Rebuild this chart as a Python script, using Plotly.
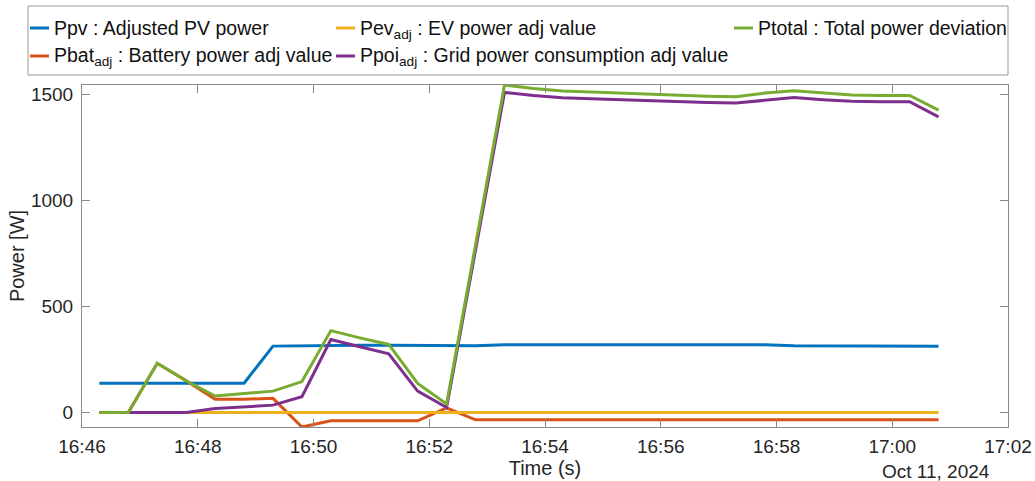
import plotly.graph_objects as go

# Sample timestamps (one reading every 30 s)
times = [
    "2024-10-11 16:46:18", "2024-10-11 16:46:48", "2024-10-11 16:47:18", "2024-10-11 16:47:48",
    "2024-10-11 16:48:18", "2024-10-11 16:48:48", "2024-10-11 16:49:18", "2024-10-11 16:49:48",
    "2024-10-11 16:50:18", "2024-10-11 16:50:48", "2024-10-11 16:51:18", "2024-10-11 16:51:48",
    "2024-10-11 16:52:18", "2024-10-11 16:52:48", "2024-10-11 16:53:18", "2024-10-11 16:53:48",
    "2024-10-11 16:54:18", "2024-10-11 16:54:48", "2024-10-11 16:55:18", "2024-10-11 16:55:48",
    "2024-10-11 16:56:18", "2024-10-11 16:56:48", "2024-10-11 16:57:18", "2024-10-11 16:57:48",
    "2024-10-11 16:58:18", "2024-10-11 16:58:48", "2024-10-11 16:59:18", "2024-10-11 16:59:48",
    "2024-10-11 17:00:18", "2024-10-11 17:00:48",
]

# Power series [W]
ppv = [138, 138, 138, 138, 138, 138, 313, 315, 317, 317, 317, 317, 316, 315, 320,
       320, 320, 320, 320, 320, 322, 322, 320, 319, 315, 315, 312, 312, 312, 312]
pbat = [0, 0, 232, 150, 63, 63, 67, -68, -39, -40, -41, -39, 22, -34, -34,
        -34, -34, -34, -34, -34, -34, -34, -34, -34, -34, -34, -34, -34, -34, -34]
pev = [0, 0, 0, 0, 0, 0, 0, 0, 0, 0, 0, 0, 0, 0, 0,
       0, 0, 0, 0, 0, 0, 0, 0, 0, 0, 0, 0, 0, 0, 0]
ppoi = [0, 0, 0, 0, 19, 28, 35, 75, 344, 310, 277, 101, 24, 766, 1508,
        1493, 1483, 1478, 1473, 1467, 1462, 1460, 1458, 1472, 1484, 1474, 1466, 1464, 1464, 1393]
ptotal = [0, 0, 232, 150, 78, 89, 101, 146, 386, 352, 321, 137, 41, 790, 1543,
          1527, 1515, 1510, 1505, 1498, 1492, 1490, 1488, 1505, 1516, 1506, 1496, 1494, 1494, 1425]

x_ticks = ["2024-10-11 16:46", "2024-10-11 16:48", "2024-10-11 16:50", "2024-10-11 16:52",
           "2024-10-11 16:54", "2024-10-11 16:56", "2024-10-11 16:58", "2024-10-11 17:00",
           "2024-10-11 17:02"]
x_labels = ["16:46", "16:48", "16:50", "16:52", "16:54", "16:56", "16:58", "17:00", "17:02"]
y_ticks = [0, 500, 1000, 1500]

FONT = "Liberation Sans, Arial, Helvetica, sans-serif"
TXT = "#262626"
AXC = "#8a8a8a"

# (values, legend label, colour, legend column, legend row)
series = [
    (ppv, "Ppv : Adjusted PV power", "#0072BD", 0, 0),
    (pbat, "Pbat<sub>adj</sub> : Battery power adj value", "#D95319", 0, 1),
    (pev, "Pev<sub>adj</sub> : EV power adj value", "#EDB120", 1, 0),
    (ppoi, "Ppoi<sub>adj</sub> : Grid power consumption adj value", "#7E2F8E", 1, 1),
    (ptotal, "Ptotal : Total power deviation", "#77AC30", 2, 0),
]

W, H = 1035, 481
L, R, T, B = 82, 27, 85, 54
pw, ph = W - L - R, H - T - B


def px_x(x):
    return (x - L) / pw


def px_y(y):
    return (H - B - y) / ph


# legend layout in page pixels
col_line_x = [30, 336, 734]
row_y = [28, 56]
sample_len = 19
text_gap = 3

fig = go.Figure()
shapes = [dict(type="rect", xref="paper", yref="paper",
               x0=px_x(28), x1=px_x(1008), y0=px_y(75), y1=px_y(6),
               line=dict(color="#9a9a9a", width=1), fillcolor="rgba(0,0,0,0)")]
annotations = []

for ys, name, color, col, row in series:
    fig.add_trace(go.Scatter(x=times, y=ys, mode="lines", name=name,
                             line=dict(color=color, width=3), showlegend=False))
    x0 = col_line_x[col]
    yl = row_y[row]
    shapes.append(dict(type="line", xref="paper", yref="paper",
                       x0=px_x(x0), x1=px_x(x0 + sample_len), y0=px_y(yl), y1=px_y(yl),
                       line=dict(color=color, width=3)))
    has_sub = "<sub>" in name
    annotations.append(dict(text=name, xref="paper", yref="paper",
                            x=px_x(x0 + sample_len + text_gap),
                            y=px_y(yl + (1 if has_sub else 0)),
                            xanchor="left", yanchor="middle", showarrow=False,
                            font=dict(family=FONT, size=19.5, color="#111111")))

all_vals = ppv + pbat + pev + ppoi + ptotal
y_lo, y_hi = min(all_vals), max(all_vals)

annotations.append(dict(text="Oct 11, 2024", xref="paper", yref="paper",
                        x=px_x(936), y=px_y(471), xanchor="center", yanchor="middle",
                        showarrow=False, font=dict(family=FONT, size=19, color=TXT)))

fig.update_layout(
    width=W, height=H,
    margin=dict(l=L, r=R, t=T, b=B, autoexpand=False),
    paper_bgcolor="white", plot_bgcolor="white",
    font=dict(family=FONT, color=TXT),
    showlegend=False,
    xaxis=dict(
        type="date",
        range=["2024-10-11 16:46", "2024-10-11 17:02"],
        tickmode="array", tickvals=x_ticks, ticktext=x_labels,
        ticks="inside", ticklen=8, tickwidth=1, tickcolor=AXC,
        showline=True, linecolor=AXC, linewidth=1, mirror="ticks",
        showgrid=False, zeroline=False,
        tickfont=dict(family=FONT, size=19, color=TXT),
        ticklabelstandoff=2,
        title=dict(text="Time (s)", font=dict(family=FONT, size=20, color=TXT), standoff=4),
    ),
    yaxis=dict(
        range=[y_lo, y_hi],
        tickmode="array", tickvals=y_ticks,
        ticks="inside", ticklen=8, tickwidth=1, tickcolor=AXC,
        showline=True, linecolor=AXC, linewidth=1, mirror="ticks",
        showgrid=False, zeroline=False,
        tickfont=dict(family=FONT, size=19, color=TXT),
        ticklabelstandoff=4,
        title=dict(text="Power [W]", font=dict(family=FONT, size=20, color=TXT), standoff=0),
    ),
    shapes=shapes,
    annotations=annotations,
)

fig.write_html("out.html")
